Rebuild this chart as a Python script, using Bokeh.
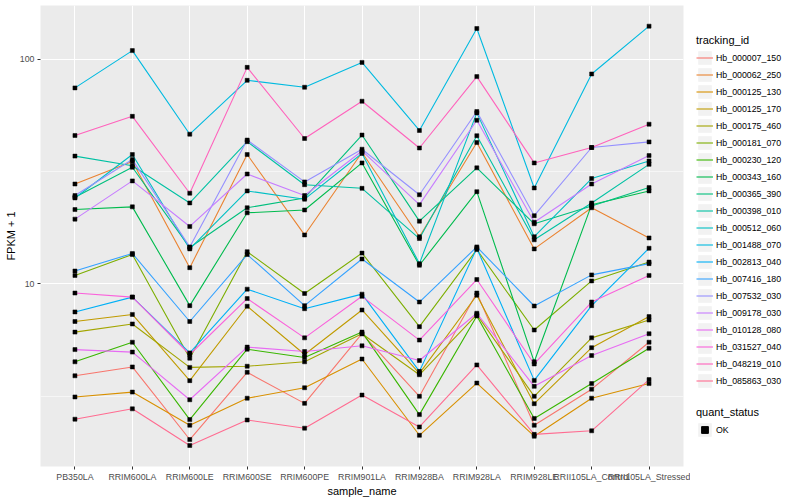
from bokeh.plotting import figure
from bokeh.models import (ColumnDataSource, FactorRange, Range1d, FixedTicker, Legend,
                          LegendItem, BasicTickFormatter)
from bokeh.layouts import row
from bokeh.embed import file_html
from bokeh.resources import INLINE

samples = ["PB350LA", "RRIM600LA", "RRIM600LE", "RRIM600SE", "RRIM600PE", "RRIM901LA",
           "RRIM928BA", "RRIM928LA", "RRIM928LE", "RRII105LA_Control", "RRII105LA_Stressed"]

tracking_ids = ["Hb_000007_150", "Hb_000062_250", "Hb_000125_130", "Hb_000125_170",
                "Hb_000175_460", "Hb_000181_070", "Hb_000230_120", "Hb_000343_160",
                "Hb_000365_390", "Hb_000398_010", "Hb_000512_060", "Hb_001488_070",
                "Hb_002813_040", "Hb_007416_180", "Hb_007532_030", "Hb_009178_030",
                "Hb_010128_080", "Hb_031527_040", "Hb_048219_010", "Hb_085863_030"]

colors = ["#F8766D", "#EA8331", "#D89000", "#C09B00", "#A3A500", "#7CAE00", "#39B600",
          "#00BB4E", "#00BF7D", "#00C1A3", "#00BFC4", "#00BAE0", "#00B0F6", "#35A2FF",
          "#9590FF", "#C77CFF", "#E76BF3", "#FA62DB", "#FF62BC", "#FF6C91"]

# FPKM + 1 per sample (order of `samples`)
Hb_000007_150 = [3.9, 4.27, 2.03, 4.04, 2.94, 6.0, 3.16, 9.1, 2.35, 3.4, 5.5]
Hb_000062_250 = [27.8, 35.0, 11.8, 37.6, 16.5, 38.4, 16.2, 42.5, 14.3, 21.8, 16.0]
Hb_000125_130 = [3.14, 3.30, 2.35, 3.1, 3.45, 4.63, 2.12, 3.62, 2.1, 3.1, 3.6]
Hb_000125_170 = [6.8, 7.31, 3.71, 7.95, 4.85, 7.65, 4.0, 8.9, 2.93, 5.2, 7.15]
Hb_000175_460 = [6.1, 6.63, 4.25, 4.3, 4.5, 6.0, 3.94, 7.3, 3.16, 5.75, 6.9]
Hb_000181_070 = [10.9, 13.5, 4.67, 13.9, 9.06, 13.7, 6.45, 14.2, 6.23, 10.3, 12.5]
Hb_000230_120 = [4.5, 5.5, 2.49, 5.12, 4.7, 6.1, 2.62, 7.2, 2.52, 3.6, 5.17]
Hb_000343_160 = [21.4, 22.0, 8.0, 20.7, 21.3, 34.5, 12.1, 25.7, 4.5, 22.5, 25.9]
Hb_000365_390 = [24.3, 33.0, 14.5, 21.8, 24.1, 45.9, 19.0, 32.8, 18.5, 22.2, 26.8]
Hb_000398_010 = [37.0, 33.5, 22.9, 42.9, 27.6, 26.6, 15.9, 45.6, 15.7, 22.9, 34.0]
Hb_000512_060 = [24.1, 37.6, 14.3, 25.9, 23.8, 38.0, 12.3, 57.6, 16.2, 29.4, 35.2]
Hb_001488_070 = [74.4, 109.0, 46.3, 80.4, 74.9, 96.6, 48.1, 136.7, 26.7, 85.8, 140.0]
Hb_002813_040 = [7.5, 8.73, 4.93, 9.47, 7.75, 9.0, 4.08, 14.4, 3.72, 8.0, 14.4]
Hb_007416_180 = [11.4, 13.65, 6.8, 13.5, 8.0, 12.9, 8.3, 14.6, 7.97, 10.96, 12.3]
Hb_007532_030 = [24.7, 35.7, 14.6, 43.6, 28.4, 39.7, 24.9, 58.4, 20.1, 40.4, 42.8]
Hb_009178_030 = [19.4, 28.7, 18.0, 30.8, 24.7, 39.0, 22.5, 53.4, 18.8, 27.8, 37.2]
Hb_010128_080 = [5.1, 4.97, 3.05, 5.23, 5.0, 5.3, 4.56, 7.4, 3.5, 4.8, 6.0]
Hb_031527_040 = [9.1, 8.73, 4.85, 8.6, 5.75, 8.8, 5.62, 10.45, 4.4, 8.3, 10.9]
Hb_048219_010 = [45.7, 55.6, 25.3, 91.8, 44.3, 64.9, 40.2, 83.5, 34.5, 40.4, 51.3]
Hb_085863_030 = [2.5, 2.78, 1.91, 2.48, 2.28, 3.2, 2.31, 4.36, 2.14, 2.22, 3.75]

series = [Hb_000007_150, Hb_000062_250, Hb_000125_130, Hb_000125_170, Hb_000175_460,
          Hb_000181_070, Hb_000230_120, Hb_000343_160, Hb_000365_390, Hb_000398_010,
          Hb_000512_060, Hb_001488_070, Hb_002813_040, Hb_007416_180, Hb_007532_030,
          Hb_009178_030, Hb_010128_080, Hb_031527_040, Hb_048219_010, Hb_085863_030]

quant_status = ["OK"]

FONT = "Liberation Sans"

data = {"sample_name": samples}
for tid, vals in zip(tracking_ids, series):
    data[tid] = vals
src = ColumnDataSource(data)

MAIN_W, LEG_W, H = 690, 110, 500
BL, BR, BT, BB = 40, 7, 5, 34

p = figure(width=MAIN_W, height=H,
           x_range=FactorRange(factors=samples, range_padding=0.1, range_padding_units="absolute"),
           y_axis_type="log", y_range=Range1d(1.54, 173),
           output_backend="svg", toolbar_location=None,
           min_border_left=BL, min_border_right=BR, min_border_top=BT, min_border_bottom=BB,
           background_fill_color="#EBEBEB", border_fill_color="white",
           outline_line_color=None)

for tid, c in zip(tracking_ids, colors):
    p.line(x="sample_name", y=tid, source=src, line_color=c, line_width=1.1)

pts = {"x": [], "y": []}
for vals in series:
    pts["x"].extend(samples)
    pts["y"].extend(vals)
p.scatter(x="x", y="y", source=ColumnDataSource(pts), marker="square", size=4,
          fill_color="black", line_color="black", line_width=0.5)

yt = FixedTicker(ticks=[10, 100], minor_ticks=[10 ** 0.5, 10 ** 1.5])
p.yaxis.ticker = yt
p.ygrid.ticker = yt
p.yaxis.formatter = BasicTickFormatter()

p.xgrid.grid_line_color = "white"
p.xgrid.grid_line_width = 1.07
p.ygrid.grid_line_color = "white"
p.ygrid.grid_line_width = 1.07
p.ygrid.minor_grid_line_color = "white"
p.ygrid.minor_grid_line_width = 0.55

p.xaxis.axis_label = "sample_name"
p.yaxis.axis_label = "FPKM + 1"
for ax in (p.xaxis[0], p.yaxis[0]):
    ax.axis_line_color = None
    ax.major_tick_line_color = "#333333"
    ax.major_tick_out = 3
    ax.major_tick_in = 0
    ax.minor_tick_line_color = None
    ax.major_label_text_color = "#4D4D4D"
    ax.major_label_text_font = FONT
    ax.major_label_text_font_size = "8.8px"
    ax.major_label_standoff = 2
    ax.axis_label_text_font = FONT
    ax.axis_label_text_font_size = "11px"
    ax.axis_label_text_font_style = "normal"
    ax.axis_label_text_color = "black"
    ax.axis_label_standoff = 0

# ---- legend panel (its frame is aligned with the main frame by the row layout)
leg = figure(width=LEG_W, height=H, output_backend="svg", toolbar_location=None,
             x_range=Range1d(0, 1), y_range=Range1d(0, 1),
             x_axis_location=None, y_axis_location=None,
             min_border_left=0, min_border_right=0, min_border_top=BT, min_border_bottom=BB,
             outline_line_color=None, background_fill_color="white")
leg.grid.visible = False

# helper renderers kept outside the visible range; they only supply legend keys
bg = leg.rect(x=[-5], y=[-5], width=0.1, height=0.1, fill_color="#F2F2F2", line_color=None)
items = []
for tid, c in zip(tracking_ids, colors):
    r = leg.line(x=[-5, -4], y=[-5, -5], line_color=c, line_width=1.1)
    items.append(LegendItem(label=tid, renderers=[bg, r]))
pt_key = leg.scatter(x=[-5], y=[-5], marker="square", size=4,
                     fill_color="black", line_color="black")
items2 = [LegendItem(label=quant_status[0], renderers=[bg, pt_key])]


def style(lg):
    lg.glyph_width = 17
    lg.glyph_height = 17
    lg.label_height = 17
    lg.spacing = 0
    lg.padding = 0
    lg.margin = 0
    lg.label_standoff = 3
    lg.border_line_color = None
    lg.background_fill_alpha = 0
    lg.label_text_font = FONT
    lg.label_text_font_size = "8.8px"
    lg.label_text_color = "black"
    lg.title_text_font = FONT
    lg.title_text_font_size = "11px"
    lg.title_text_font_style = "normal"
    lg.title_text_color = "black"
    lg.title_standoff = 3


frame_bottom = H - BB
lg1 = Legend(items=items, title="tracking_id", location=(6, frame_bottom - 389))
lg2 = Legend(items=items2, title="quant_status", location=(6, frame_bottom - 438))
style(lg1)
style(lg2)
leg.add_layout(lg1)
leg.add_layout(lg2)

layout = row(p, leg)
open("out.html", "w").write(file_html(layout, INLINE))
